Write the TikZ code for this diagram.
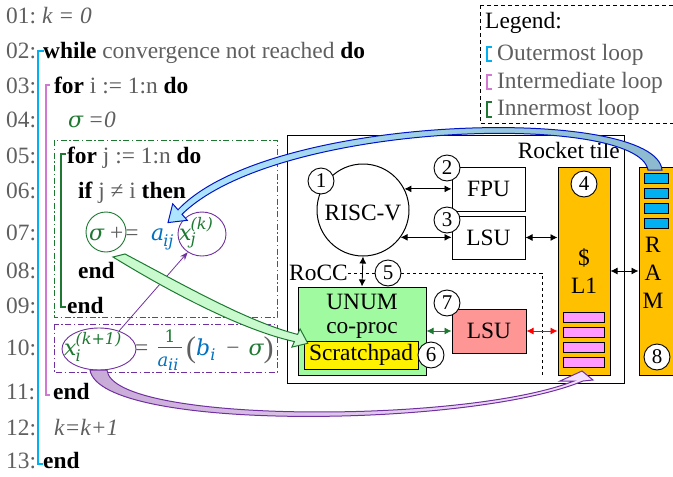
\documentclass[tikz,border=0pt]{standalone}
\usepackage{fontspec}
\setmainfont{Liberation Serif}
\newfontfamily\mfont{DejaVu Serif}
\usetikzlibrary{arrows.meta,shapes.geometric}
\definecolor{cgray}{RGB}{95,95,95}
\definecolor{cgreen}{RGB}{30,120,50}
\definecolor{cblue}{RGB}{0,112,192}
\definecolor{cpurple}{RGB}{112,48,160}
\definecolor{ccyan}{RGB}{0,176,240}
\definecolor{cpink}{RGB}{210,120,210}
\definecolor{unumgreen}{RGB}{160,250,160}
\definecolor{lsured}{RGB}{255,150,150}
\definecolor{corange}{RGB}{255,192,0}
\definecolor{barpink}{RGB}{255,153,255}
\definecolor{arrblue}{RGB}{0,20,200}
\definecolor{arrbluel}{RGB}{175,230,255}
\definecolor{arrblued}{RGB}{140,185,205}
\definecolor{arrgreen}{RGB}{200,250,205}
\definecolor{arrpurl}{RGB}{245,225,255}
\definecolor{arrpurd}{RGB}{200,170,215}
\newcommand\kwd[1]{{\color{black}\bfseries #1}}
\newcommand\mf{\mfont\itshape\fontsize{22}{24}\selectfont}
\newcommand\mscr{\fontsize{16}{16}\selectfont}
\newcommand\lsub[2]{\raisebox{-#1}{\mscr #2}}
\newcommand\lsubsup[3]{\makebox[0pt][l]{\raisebox{-#1}{\mscr #2}}\raisebox{11pt}{\mscr #3}}
\begin{document}
\begin{tikzpicture}[x=1pt,y=-1pt,
  every node/.style={font=\fontsize{23.4}{26}\selectfont, inner sep=0pt},
  lnum/.style={anchor=base west, text=cgray},
  code/.style={anchor=base west, text=cgray},
  numc/.style={circle, draw, fill=white, minimum size=26pt, inner sep=0pt, line width=0.9pt, font=\fontsize{21}{21}\selectfont},
  blk/.style={draw, line width=1pt},
  dbl/.style={{Latex[length=7pt,width=7pt]}-{Latex[length=7pt,width=7pt]}, line width=0.9pt},
  dashdot/.style={line width=0.9pt, dash pattern=on 6pt off 2.5pt on 1.5pt off 2.5pt},
  bracket/.style={line width=1.2pt},
  fatarrow/.style={line width=1pt, line join=miter},
]
\useasboundingbox (0,0) rectangle (673,477);

% ---------------- code listing ----------------
\foreach \n/\y in {01/23,02/58,03/93,04/127,05/163,06/198,07/240,08/278,09/313,10/355,11/399,12/435,13/468}
  \node[lnum] (ln\n) at (6,\y) {\n:};

\node[code] (c1) at (42,23) {\textit{k = 0}};
\node[code] (c2) at (43,58) {\kwd{while} convergence not reached \kwd{do}};
\node[code] (c3) at (54,93) {\kwd{for} i := 1:n \kwd{do}};
\node[code] (c4) at (68,127) {{\mf\color{cgreen}σ}\hspace{5pt}\textit{=0}};
\node[code] (c5l) at (67,163) {\kwd{for} j := 1:n \kwd{do}};
\node[code] (c6) at (78,198) {\kwd{if} j ≠ i \kwd{then}};
% line 07: sigma += a_ij x_j^(k)
\node[code, text=cgreen] (c7s) at (89,240) {\mf σ};
\node[code] (c7op) at (110,240) {+\hspace{2pt}=};
\node[code, text=cblue] (c7a) at (151,240) {\mf a\hspace{-1pt}\lsub{6pt}{ij}};
\node[code, text=cgreen] (c7x) at (179,240) {\mf x\hspace{-1pt}\lsubsup{4pt}{j}{(k)}};
\node[code] (c8) at (78,278) {\kwd{end}};
\node[code] (c9) at (67,313) {\kwd{end}};
% line 10: x_i^(k+1) = 1/a_ii (b_i - sigma)
\node[code, text=cgreen] (c10x) at (64,355) {\mf x\hspace{-1pt}\lsubsup{6pt}{i}{(k+1)}};
\node[code] (c10eq) at (135,355) {=};
\node[anchor=base, text=cgreen, font=\mfont\fontsize{17}{17}\selectfont] (fnum) at (170,342) {1};
\node[anchor=base, text=cblue] (fden) at (168,366) {\mfont\itshape\fontsize{18}{18}\selectfont a\lsub{4pt}{ii}};
\coordinate (fbl) at (158,347.5);
\coordinate (fbr) at (182,347.5);
\draw[cgreen, line width=1.2pt] (fbl) -- (fbr);
\node[code] (c10b) at (186,355) {{\fontsize{30}{30}\selectfont\raisebox{-2pt}{(}}{\mf\color{cblue}b\lsub{5pt}{i}}\hspace{11pt}−\hspace{9pt}{\mf\color{cgreen}σ}{\fontsize{30}{30}\selectfont\raisebox{-2pt}{)}}};
\node[code] (c11) at (53,399) {\kwd{end}};
\node[code] (c12) at (54,435) {\textit{k=k+1}};
\node[code] (c13) at (43,468) {\kwd{end}};

% loop brackets
\draw[bracket, ccyan] (44,51) -- (38,51) -- (38,464) -- (43,464);
\draw[bracket, cpink] (50,85) -- (46,85) -- (46,395) -- (50,395);
\draw[bracket, cgreen] (66,154) -- (61,154) -- (61,307) -- (66,307);

% dash-dot boxes
\draw[dashdot, cgreen] (54,140) rectangle (277,317);
\draw[dashdot, cpurple] (54,324) rectangle (277,372);

% highlight ellipses
\node[draw=cgreen, circle, minimum size=40pt, line width=0.9pt] (sigc) at (106,232) {};
\node[draw=cpurple, ellipse, minimum width=48pt, minimum height=44pt, line width=0.9pt] (xjc) at (202,234) {};
\node[draw=cpurple, ellipse, minimum width=74pt, minimum height=42pt, line width=0.9pt] (xic) at (99,349) {};
\draw[cpurple, line width=0.8pt, -{Stealth[length=8pt,width=6pt]}] (xic.42) -- (xjc.232);

% ---------------- legend ----------------
\draw[line width=0.9pt, dash pattern=on 4pt off 3pt] (480,5) rectangle (700,123);
\node[anchor=base west] (leg) at (485,28) {Legend:};
\node[anchor=base west, text=cgray] (lo) at (497,60) {Outermost loop};
\node[anchor=base west, text=cgray] (li) at (497,88) {Intermediate loop};
\node[anchor=base west, text=cgray] (ln) at (497,115) {Innermost loop};
\draw[bracket, ccyan] (492,47) -- (487,47) -- (487,61) -- (492,61);
\draw[bracket, cpink] (492,75) -- (487,75) -- (487,89) -- (492,89);
\draw[bracket, cgreen] (492,102) -- (487,102) -- (487,117) -- (492,117);

% ---------------- hardware ----------------
\node[blk, minimum width=337pt, minimum height=248pt, anchor=north west] (tile) at (287,135) {};
\node[anchor=base east] (rtl) at (620,158) {Rocket tile};

\node[blk, circle, minimum size=92pt, fill=white] (risc) at (363,210) {};
\node[anchor=base] (risct) at (363,220) {RISC-V};
\node[blk, minimum width=73pt, minimum height=44pt] (fpu) at (488.5,189) {FPU};
\node[blk, minimum width=73pt, minimum height=43pt] (lsu1) at (488.5,237.5) {LSU};

% RoCC dashed region
\node[anchor=base west] (rocc) at (289,280) {RoCC};
\coordinate (dcorner) at (542,273);
\coordinate (dend) at (542,375);
\node[numc] (n5) at (388,273) {5};
\draw[line width=0.8pt, dashed] (rocc.east |- n5) -- (n5.west);
\draw[line width=0.8pt, dashed] (n5.east) -- (dcorner) -- (dend);

\node[blk, fill=unumgreen, minimum width=128pt, minimum height=88pt] (unum) at (362,331) {};
\node[anchor=base] (unumt) at (362,309) {UNUM};
\node[anchor=base] (unumt2) at (362,333) {co-proc};
\node[blk, fill=yellow, minimum width=114pt, minimum height=28pt] (scr) at (361,355) {Scratchpad};
\node[blk, fill=lsured, minimum width=74pt, minimum height=44pt] (lsu2) at (489,331) {LSU};

\node[blk, fill=corange, minimum width=52pt, minimum height=208pt] (l1) at (584,271) {};
\foreach \yy [count=\i] in {317,332,347,362}
  \node[blk, fill=barpink, minimum width=41pt, minimum height=10pt] (pb\i) at (583.5,\yy) {};
\node[anchor=base] (dollar) at (584,265) {\$};
\node[anchor=base] (l1t) at (584,293) {L1};

\node[blk, fill=corange, minimum width=60pt, minimum height=208pt] (ram) at (669,271) {};
\foreach \yy [count=\i] in {178,193,208,223}
  \node[blk, fill=ccyan, minimum width=24pt, minimum height=10pt] (bb\i) at (656,\yy) {};
\node[anchor=base] (rr) at (653,252) {R};
\node[anchor=base] (ra) at (653,280) {A};
\node[anchor=base] (rm) at (653,308) {M};

% connectors
\draw[dbl] (risc.27) -- (risc.27 -| fpu.west);
\draw[dbl] (risc.-36) -- (risc.-36 -| lsu1.west);
\draw[dbl] (lsu1.east) -- (lsu1.east -| l1.west);
\draw[dbl] (risc.south) -- (unum.north);
\draw[dbl, cgreen] (unum.east) -- (lsu2.west);
\draw[dbl, red] (lsu2.east) -- (lsu2.east -| l1.west);
\draw[dbl] (l1.east) -- (ram.west);

% number circles
\node[numc] (n1) at (321,181) {1};
\node[numc] (n2) at (447,168) {2};
\node[numc] (n3) at (447,220) {3};
\node[numc] (n4) at (584,184) {4};
\node[numc] (n6) at (431,355) {6};
\node[numc] (n7) at (447,303) {7};
\node[numc] (n8) at (657,357) {8};

% ---------------- fat curved arrows ----------------
% RAM -> a_ij (blue)
\path[fatarrow, draw=arrblue, left color=arrbluel, right color=arrblued]
  (662,170) .. controls (656,105) and (270,112) .. (178,209.8)
  -- (172.7,203.8) -- (168,222.6) -- (187.3,220.3) -- (182,214.3)
  .. controls (278,120) and (638,112) .. (648,170) -- cycle;
% sigma -> Scratchpad (green)
\path[fatarrow, draw=cgreen, fill=arrgreen]
  (113,257) -- (125,254) .. controls (180,283) and (248,322) .. (297.6,334.4)
  -- (300.1,328.9) -- (307.8,343.3) -- (291.9,347.1) -- (294.4,341.6)
  .. controls (242,330) and (170,292) .. (113,257) -- cycle;
% x_i -> L1 (purple)
\path[fatarrow, draw=cpurple, left color=arrpurd, right color=arrpurl]
  (90,370) .. controls (100,432) and (470,428) .. (583,381)
  -- (593,380) -- (582,371) -- (560,381) -- (574,381)
  .. controls (465,424) and (112,424) .. (107,370) -- cycle;
\end{tikzpicture}
\end{document}
